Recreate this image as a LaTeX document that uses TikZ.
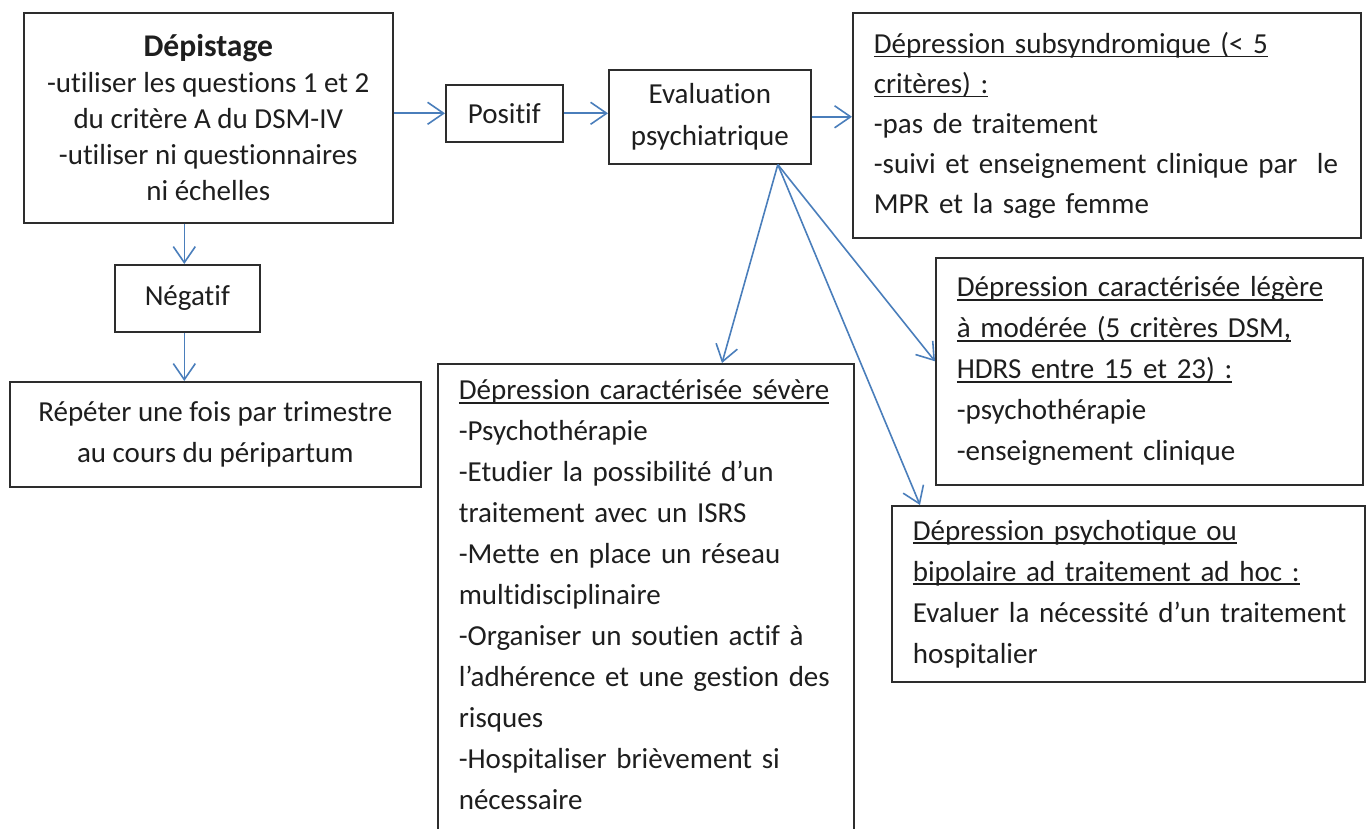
\documentclass[tikz,border=0pt]{standalone}
\usepackage{fontspec}
\setmainfont{Carlito}[Ligatures=NoCommon]
\usetikzlibrary{arrows.meta}
\definecolor{arrowblue}{RGB}{74,126,187}
\definecolor{boxline}{RGB}{45,45,45}
\definecolor{txt}{RGB}{30,30,30}
\newcommand\undl[1]{\leavevmode{\setbox0\hbox{#1}\rlap{\rule[-4pt]{\wd0}{1.6pt}}\box0}}
\begin{document}
\begin{tikzpicture}[x=1pt,y=-1pt,
  box/.style={draw=boxline, line width=1.6pt, rectangle, anchor=north west, inner sep=0pt, text=txt, font=\fontsize{29}{41}\selectfont},
  leftbox/.style={box, align=left, inner xsep=21pt},
  ctrbox/.style={box, align=center},
  conn/.style={draw=arrowblue, line width=1.6pt, -{Straight Barb[length=16pt,width=22pt]}}
]
\clip (0,0) rectangle (1367,829);

\node[ctrbox, minimum width=369pt, minimum height=210pt, font=\fontsize{29}{36}\selectfont] (dep) at (23,12)
  {{\fontsize{31.6}{36}\selectfont\bfseries Dépistage}\\-utiliser les questions 1 et 2\\du critère A du DSM-IV\\-utiliser ni questionnaires\\ni échelles};
\node[ctrbox, minimum width=117pt, minimum height=57pt] (pos) at (445,84) {Positif};
\node[ctrbox, minimum width=202pt, minimum height=94pt, font=\fontsize{29}{42}\selectfont] (eval) at (608,69) {\raisebox{-3pt}{Evaluation}\\\raisebox{-3pt}{psychiatrique}};
\node[leftbox, text width=466pt, minimum width=508pt, minimum height=225pt, font=\fontsize{29}{40}\selectfont] (sub) at (852,12)
  {\undl{Dépression subsyndromique (< 5}\\\undl{critères) :}\\\mbox{-pas de traitement}\\\mbox{-suivi et enseignement clinique par\ \ le}\\\mbox{MPR et la sage femme}};
\node[leftbox, text width=385pt, minimum width=427pt, minimum height=227pt] (lege) at (935,257)
  {\undl{Dépression caractérisée légère}\\\undl{à modérée (5 critères DSM,}\\\undl{HDRS entre 15 et 23) :}\\\mbox{-psychothérapie}\\\mbox{-enseignement clinique}};
\node[leftbox, text width=431pt, minimum width=473pt, minimum height=176pt] (psy) at (891,505)
  {\undl{Dépression psychotique ou}\\\undl{bipolaire ad traitement ad hoc :}\\\mbox{Evaluer la nécessité d’un traitement}\\\mbox{hospitalier}};
\node[leftbox, text width=374pt, minimum width=416pt, inner ysep=6pt] (sev) at (437,363)
  {\rule{0pt}{30pt}\undl{Dépression caractérisée sévère}\\\mbox{-Psychothérapie}\\\mbox{-Etudier la possibilité d’un}\\\mbox{traitement avec un ISRS}\\\mbox{-Mette en place un réseau}\\\mbox{multidisciplinaire}\\\mbox{-Organiser un soutien actif à}\\\mbox{l’adhérence et une gestion des}\\\mbox{risques}\\\mbox{-Hospitaliser brièvement si}\\\mbox{nécessaire}\rule[-40pt]{0pt}{0pt}};
\node[ctrbox, minimum width=145pt, minimum height=67pt] (neg) at (114,264) {Négatif};
\node[ctrbox, minimum width=411pt, minimum height=105pt] (rep) at (9,381) {Répéter une fois par trimestre\\au cours du péripartum};

\draw[conn] (dep.east |- pos.west) -- (pos.west);
\draw[conn] (pos.east) -- (pos.east -| eval.west);
\draw[conn] (eval.east) -- (eval.east -| sub.west);
\draw[conn] ([xshift=-3pt]neg.north |- dep.south) -- ([xshift=-3pt]neg.north);
\draw[conn] ([xshift=-3pt]neg.south) -- ([xshift=-3pt]neg.south |- rep.north);
\coordinate (fan) at ([xshift=68pt]eval.south);
\draw[conn] (fan) -- ([xshift=285pt]sev.north west);
\draw[conn] (fan) -- ([yshift=10pt]lege.west);
\draw[conn] (fan) -- ([xshift=29pt]psy.north west);
\end{tikzpicture}
\end{document}
